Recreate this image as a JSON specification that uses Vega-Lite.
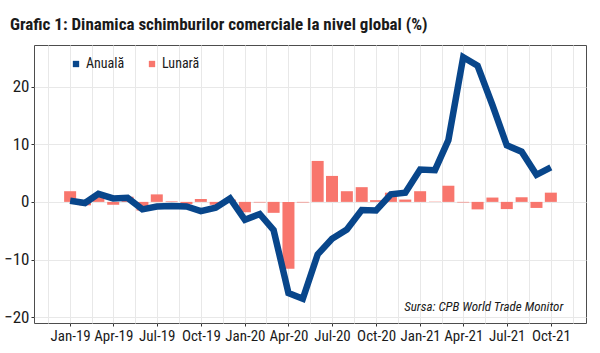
{
  "$schema": "https://vega.github.io/schema/vega-lite/v6.json",
  "width": 552,
  "height": 278,
  "autosize": {"type": "none"},
  "padding": {"left": 34, "top": 45, "right": 14, "bottom": 30},
  "background": "white",
  "title": {
    "text": "Grafic 1: Dinamica schimburilor comerciale la nivel global (%)",
    "anchor": "start",
    "frame": "group",
    "dx": -24,
    "offset": 10,
    "font": "Roboto Condensed, Roboto",
    "fontSize": 17,
    "fontWeight": "bold",
    "color": "#1a1a1a"
  },
  "config": {
    "font": "Roboto Condensed, Roboto",
    "view": {"stroke": "#4d4d4d", "strokeWidth": 1}
  },
  "data": {
    "values": [
      {"date": "2019-01-01", "series": "Anuală", "value": 0.2},
      {"date": "2019-02-01", "series": "Anuală", "value": -0.2},
      {"date": "2019-03-01", "series": "Anuală", "value": 1.4},
      {"date": "2019-04-01", "series": "Anuală", "value": 0.6},
      {"date": "2019-05-01", "series": "Anuală", "value": 0.7},
      {"date": "2019-06-01", "series": "Anuală", "value": -1.3},
      {"date": "2019-07-01", "series": "Anuală", "value": -0.8},
      {"date": "2019-08-01", "series": "Anuală", "value": -0.7},
      {"date": "2019-09-01", "series": "Anuală", "value": -0.8},
      {"date": "2019-10-01", "series": "Anuală", "value": -1.6},
      {"date": "2019-11-01", "series": "Anuală", "value": -1.0},
      {"date": "2019-12-01", "series": "Anuală", "value": 0.6},
      {"date": "2020-01-01", "series": "Anuală", "value": -3.1},
      {"date": "2020-02-01", "series": "Anuală", "value": -2.1},
      {"date": "2020-03-01", "series": "Anuală", "value": -4.9},
      {"date": "2020-04-01", "series": "Anuală", "value": -15.8},
      {"date": "2020-05-01", "series": "Anuală", "value": -16.8},
      {"date": "2020-06-01", "series": "Anuală", "value": -9.1},
      {"date": "2020-07-01", "series": "Anuală", "value": -6.4},
      {"date": "2020-08-01", "series": "Anuală", "value": -4.8},
      {"date": "2020-09-01", "series": "Anuală", "value": -1.4},
      {"date": "2020-10-01", "series": "Anuală", "value": -1.5},
      {"date": "2020-11-01", "series": "Anuală", "value": 1.3},
      {"date": "2020-12-01", "series": "Anuală", "value": 1.6},
      {"date": "2021-01-01", "series": "Anuală", "value": 5.6},
      {"date": "2021-02-01", "series": "Anuală", "value": 5.5},
      {"date": "2021-03-01", "series": "Anuală", "value": 10.7},
      {"date": "2021-04-01", "series": "Anuală", "value": 25.1},
      {"date": "2021-05-01", "series": "Anuală", "value": 23.6},
      {"date": "2021-06-01", "series": "Anuală", "value": 16.8},
      {"date": "2021-07-01", "series": "Anuală", "value": 9.8},
      {"date": "2021-08-01", "series": "Anuală", "value": 8.7},
      {"date": "2021-09-01", "series": "Anuală", "value": 4.7},
      {"date": "2021-10-01", "series": "Anuală", "value": 6.0},
      {"date": "2019-01-01", "series": "Lunară", "value": 1.85},
      {"date": "2019-02-01", "series": "Lunară", "value": -0.6},
      {"date": "2019-03-01", "series": "Lunară", "value": 0.9},
      {"date": "2019-04-01", "series": "Lunară", "value": -0.5},
      {"date": "2019-05-01", "series": "Lunară", "value": 0.9},
      {"date": "2019-06-01", "series": "Lunară", "value": -1.5},
      {"date": "2019-07-01", "series": "Lunară", "value": 1.3},
      {"date": "2019-08-01", "series": "Lunară", "value": 0.1},
      {"date": "2019-09-01", "series": "Lunară", "value": -0.4},
      {"date": "2019-10-01", "series": "Lunară", "value": 0.5},
      {"date": "2019-11-01", "series": "Lunară", "value": -0.5},
      {"date": "2019-12-01", "series": "Lunară", "value": 0.4},
      {"date": "2020-01-01", "series": "Lunară", "value": -1.8},
      {"date": "2020-02-01", "series": "Lunară", "value": -0.1},
      {"date": "2020-03-01", "series": "Lunară", "value": -1.9},
      {"date": "2020-04-01", "series": "Lunară", "value": -11.6},
      {"date": "2020-05-01", "series": "Lunară", "value": -0.1},
      {"date": "2020-06-01", "series": "Lunară", "value": 7.1},
      {"date": "2020-07-01", "series": "Lunară", "value": 4.5},
      {"date": "2020-08-01", "series": "Lunară", "value": 1.85},
      {"date": "2020-09-01", "series": "Lunară", "value": 2.55},
      {"date": "2020-10-01", "series": "Lunară", "value": 0.3},
      {"date": "2020-11-01", "series": "Lunară", "value": 1.6},
      {"date": "2020-12-01", "series": "Lunară", "value": 0.4},
      {"date": "2021-01-01", "series": "Lunară", "value": 1.85},
      {"date": "2021-02-01", "series": "Lunară", "value": 0.05},
      {"date": "2021-03-01", "series": "Lunară", "value": 2.8},
      {"date": "2021-04-01", "series": "Lunară", "value": -0.1},
      {"date": "2021-05-01", "series": "Lunară", "value": -1.3},
      {"date": "2021-06-01", "series": "Lunară", "value": 0.75},
      {"date": "2021-07-01", "series": "Lunară", "value": -1.25},
      {"date": "2021-08-01", "series": "Lunară", "value": 0.8},
      {"date": "2021-09-01", "series": "Lunară", "value": -1.05},
      {"date": "2021-10-01", "series": "Lunară", "value": 1.6}
    ]
  },
  "encoding": {
    "x": {
      "field": "date",
      "type": "temporal",
      "title": null,
      "scale": {
        "type": "utc",
        "domain": [
          {"year": 2018, "month": 10, "date": 28, "utc": true},
          {"year": 2021, "month": 12, "date": 3, "utc": true}
        ]
      },
      "axis": {
        "values": [
          {"year": 2018, "month": 11, "date": 16, "utc": true},
          {"year": 2019, "month": 1, "date": 1, "utc": true},
          {"year": 2019, "month": 2, "date": 15, "utc": true},
          {"year": 2019, "month": 4, "date": 1, "utc": true},
          {"year": 2019, "month": 5, "date": 16, "utc": true},
          {"year": 2019, "month": 7, "date": 1, "utc": true},
          {"year": 2019, "month": 8, "date": 16, "utc": true},
          {"year": 2019, "month": 10, "date": 1, "utc": true},
          {"year": 2019, "month": 11, "date": 16, "utc": true},
          {"year": 2020, "month": 1, "date": 1, "utc": true},
          {"year": 2020, "month": 2, "date": 15, "utc": true},
          {"year": 2020, "month": 4, "date": 1, "utc": true},
          {"year": 2020, "month": 5, "date": 16, "utc": true},
          {"year": 2020, "month": 7, "date": 1, "utc": true},
          {"year": 2020, "month": 8, "date": 16, "utc": true},
          {"year": 2020, "month": 10, "date": 1, "utc": true},
          {"year": 2020, "month": 11, "date": 16, "utc": true},
          {"year": 2021, "month": 1, "date": 1, "utc": true},
          {"year": 2021, "month": 2, "date": 15, "utc": true},
          {"year": 2021, "month": 4, "date": 1, "utc": true},
          {"year": 2021, "month": 5, "date": 16, "utc": true},
          {"year": 2021, "month": 7, "date": 1, "utc": true},
          {"year": 2021, "month": 8, "date": 16, "utc": true},
          {"year": 2021, "month": 10, "date": 1, "utc": true},
          {"year": 2021, "month": 11, "date": 16, "utc": true}
        ],
        "labelExpr": "utcdate(datum.value) === 1 ? utcFormat(datum.value, '%b-%y') : ''",
        "labelFontSize": 15,
        "labelColor": "#1a1a1a",
        "labelPadding": 2,
        "labelOverlap": false,
        "labelFlush": false,
        "tickSize": 3,
        "tickColor": "#333333",
        "tickOpacity": {"condition": {"test": "utcdate(datum.value) !== 1", "value": 0}, "value": 1},
        "domain": false,
        "grid": true,
        "gridColor": "#e8e8e8",
        "gridWidth": 1
      }
    }
  },
  "layer": [
    {
      "transform": [{"filter": "datum.series === 'Lunară'"}],
      "mark": {"type": "bar", "size": 12},
      "encoding": {
        "y": {
          "field": "value",
          "type": "quantitative",
          "title": null,
          "scale": {"domain": [-21, 27.2], "nice": false, "zero": false},
          "axis": {
            "values": [-20, -15, -10, -5, 0, 5, 10, 15, 20, 25],
            "labelExpr": "datum.value % 10 === 0 ? datum.label : ''",
            "labelFontSize": 17,
            "labelColor": "#1a1a1a",
            "labelPadding": 2,
            "tickSize": 3,
            "tickColor": "#333333",
            "tickOpacity": {"condition": {"test": "datum.value % 10 !== 0", "value": 0}, "value": 1},
            "domain": false,
            "grid": true,
            "gridColor": "#e8e8e8",
            "gridWidth": 1
          }
        },
        "color": {
          "field": "series",
          "type": "nominal",
          "scale": {"domain": ["Anuală", "Lunară"], "range": ["#08468b", "#f8766d"]},
          "legend": {
            "title": null,
            "orient": "none",
            "legendX": 35,
            "legendY": 12,
            "direction": "horizontal",
            "symbolType": "square",
            "symbolSize": 40,
            "symbolStrokeWidth": 0,
            "labelFontSize": 14,
            "labelColor": "#1a1a1a",
            "labelOffset": 3,
            "columnPadding": 20,
            "encode": {
              "symbols": {"update": {"fill": {"scale": "color", "field": "value"}, "stroke": {"value": "transparent"}}}
            }
          }
        }
      }
    },
    {
      "transform": [{"filter": "datum.series === 'Anuală'"}],
      "mark": {"type": "line", "strokeWidth": 6.5},
      "encoding": {
        "y": {"field": "value", "type": "quantitative"},
        "color": {"field": "series", "type": "nominal"}
      }
    },
    {
      "transform": [{"filter": "datum.series === 'Lunară' && datum.value === 2.8"}],
      "mark": {
        "type": "text",
        "text": "Sursa: CPB World Trade Monitor",
        "align": "right",
        "baseline": "middle",
        "fontSize": 13,
        "fontStyle": "italic",
        "fill": "#1a1a1a"
      },
      "encoding": {
        "x": {"datum": {"year": 2021, "month": 10, "date": 27, "utc": true}, "type": "temporal"},
        "y": {"datum": -18.2, "type": "quantitative"}
      }
    }
  ]
}
